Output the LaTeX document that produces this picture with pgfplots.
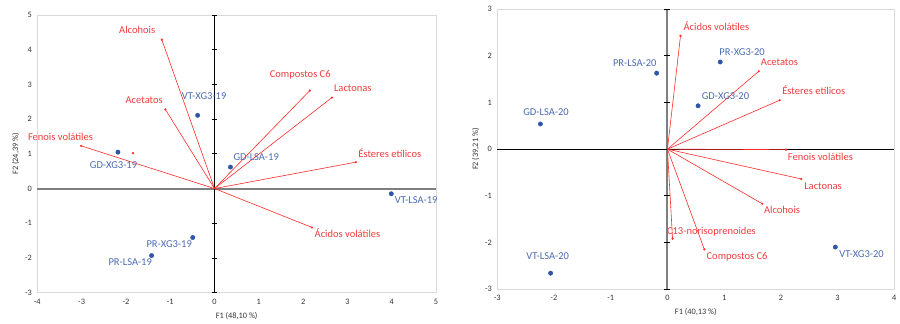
\documentclass[border=0pt]{standalone}
\usepackage{pgfplots}
\pgfplotsset{compat=1.18}
\usepackage{fontspec}
\setmainfont{Carlito}
\definecolor{ptblue}{HTML}{2F55A8}
\definecolor{lblblue}{HTML}{4A6AB0}
\definecolor{vecred}{HTML}{FF2A2A}
\definecolor{lblred}{HTML}{F03C3C}
\definecolor{boxgray}{HTML}{D9D9D9}
\definecolor{zgray}{HTML}{7F7F7F}
\pgfplotsset{
  pcastyle/.style={
    scale only axis,
    axis line style={boxgray, line width=0.8bp},
    tick style={draw=none},
    xtick distance=1, ytick distance=1,
    tick label style={font=\fontsize{8.3bp}{10bp}\selectfont, text=black!80},
    xticklabel style={yshift=-3bp},
    yticklabel style={xshift=-2bp},
    label style={font=\fontsize{8.3bp}{10bp}\selectfont, text=black!80},
    /pgf/number format/assume math mode=true,
    clip=false,
    xlabel style={yshift=-1bp},
    ylabel style={yshift=-1bp},
  },
  vec/.style={vecred, line width=0.6bp, no marks},
  vend/.style={only marks, mark=*, mark size=0.9bp, vecred},
  obs/.style={only marks, mark=*, mark size=2.2bp, ptblue},
}
\tikzset{
  rl/.style={text=lblred, font=\fontsize{10.5bp}{12bp}\selectfont},
  bl/.style={text=lblblue, font=\fontsize{10.5bp}{12bp}\selectfont},
}
\begin{document}
\begin{tikzpicture}[x=1bp,y=1bp]
\useasboundingbox (0,0) rectangle (900,323);
% ---------------- Left chart ----------------
\begin{axis}[pcastyle,
  at={(37.3bp,30.3bp)}, anchor=south west,
  width=398.7bp, height=277.7bp,
  xmin=-4, xmax=5, ymin=-3, ymax=5,
  xlabel={F1 (48,10 \%)}, ylabel={F2 (24,39 \%)},
]
\draw[zgray, line width=2bp] (axis cs:-4,0) -- (axis cs:5,0);
\draw[black, line width=1.1bp] (axis cs:0,-3) -- (axis cs:0,5);
\pgfplotsinvokeforeach{-3,-2,-1,1,2,3,4,5}{
  \draw[black, line width=0.9bp] ([xshift=-2.7bp]axis cs:0,#1) -- ([xshift=2.7bp]axis cs:0,#1);
}
\addplot[vec] coordinates {(0,0) (-1.19,4.29)};
\addplot[vec] coordinates {(0,0) (-1.11,2.28)};
\addplot[vec] coordinates {(0,0) (-3.01,1.23)};
\addplot[vec] coordinates {(0,0) (2.15,2.82)};
\addplot[vec] coordinates {(0,0) (2.65,2.62)};
\addplot[vec] coordinates {(0,0) (3.19,0.76)};
\addplot[vec] coordinates {(0,0) (2.20,-1.12)};
\addplot[vend] coordinates {(-1.19,4.29) (-1.11,2.28) (-3.01,1.23) (2.15,2.82) (2.65,2.62) (3.19,0.76) (2.20,-1.12) (-1.84,1.02)};
\addplot[obs] coordinates {(-0.38,2.11) (-2.18,1.05) (0.36,0.62) (3.99,-0.15) (-0.49,-1.41) (-1.42,-1.93)};
\node[rl] at (axis cs:-1.745,4.58) {Alcohois};
\node[rl] at (axis cs:-1.587,2.553) {Acetatos};
\node[rl] at (axis cs:-3.476,1.487) {Fenois volátiles};
\node[rl] at (axis cs:1.935,3.274) {Compostos C6};
\node[rl] at (axis cs:3.122,2.899) {Lactonas};
\node[rl] at (axis cs:3.957,1.026) {Ésteres etílicos};
\node[rl] at (axis cs:3.002,-1.297) {Ácidos volátiles};
\node[bl] at (axis cs:-0.233,2.669) {VT-XG3-19};
\node[bl] at (axis cs:-2.280,0.663) {GD-XG3-19};
\node[bl] at (axis cs:0.941,0.893) {GD-LSA-19};
\node[bl] at (axis cs:4.553,-0.337) {VT-LSA-19};
\node[bl] at (axis cs:-1.023,-1.614) {PR-XG3-19};
\node[bl] at (axis cs:-1.903,-2.133) {PR-LSA-19};
\end{axis}
% ---------------- Right chart ----------------
\begin{axis}[pcastyle,
  at={(497.3bp,34bp)}, anchor=south west,
  width=397bp, height=279.7bp,
  xmin=-3, xmax=4, ymin=-3, ymax=3,
  xlabel={F1 (40,13 \%)}, ylabel={F2 (39,21 \%)},
]
\draw[zgray, line width=2bp] (axis cs:0,-3) -- (axis cs:0,3);
\draw[black, line width=0.9bp] (axis cs:-3,0) -- (axis cs:4,0);
\pgfplotsinvokeforeach{-3,-2,-1,1,2,3}{
  \draw[black, line width=0.9bp] ([xshift=-3bp]axis cs:0,#1) -- ([xshift=3bp]axis cs:0,#1);
}
\addplot[vec] coordinates {(0,0) (0.23,2.43)};
\addplot[vec] coordinates {(0,0) (1.61,1.67)};
\addplot[vec] coordinates {(0,0) (1.98,1.05)};
\addplot[vec] coordinates {(0,0) (2.09,-0.01)};
\addplot[vec] coordinates {(0,0) (2.36,-0.64)};
\addplot[vec] coordinates {(0,0) (1.67,-1.17)};
\addplot[vec] coordinates {(0,0) (0.09,-1.92)};
\addplot[vec] coordinates {(0,0) (0.65,-2.15)};
\addplot[vend] coordinates {(0.23,2.43) (1.61,1.67) (1.98,1.05) (2.09,-0.01) (2.36,-0.64) (1.67,-1.17) (0.09,-1.92) (0.65,-2.15)};
\addplot[obs] coordinates {(-0.19,1.63) (0.93,1.87) (0.54,0.93) (-2.24,0.54) (-2.06,-2.66) (2.96,-2.10)};
\node[rl] at (axis cs:0.864,2.646) {Ácidos volátiles};
\node[rl] at (axis cs:1.975,1.873) {Acetatos};
\node[rl] at (axis cs:2.580,1.258) {Ésteres etílicos};
\node[rl] at (axis cs:2.698,-0.172) {Fenois volátiles};
\node[rl] at (axis cs:2.744,-0.794) {Lactonas};
\node[rl] at (axis cs:2.021,-1.309) {Alcohois};
\node[rl] at (axis cs:0.776,-1.768) {C13-norisoprenoides};
\node[rl] at (axis cs:1.228,-2.305) {Compostos C6};
\node[bl] at (axis cs:1.316,2.082) {PR-XG3-20};
\node[bl] at (axis cs:-0.577,1.845) {PR-LSA-20};
\node[bl] at (axis cs:1.023,1.129) {GD-XG3-20};
\node[bl] at (axis cs:-2.141,0.785) {GD-LSA-20};
\node[bl] at (axis cs:-2.111,-2.290) {VT-LSA-20};
\node[bl] at (axis cs:3.422,-2.262) {VT-XG3-20};
\end{axis}
\end{tikzpicture}
\end{document}
